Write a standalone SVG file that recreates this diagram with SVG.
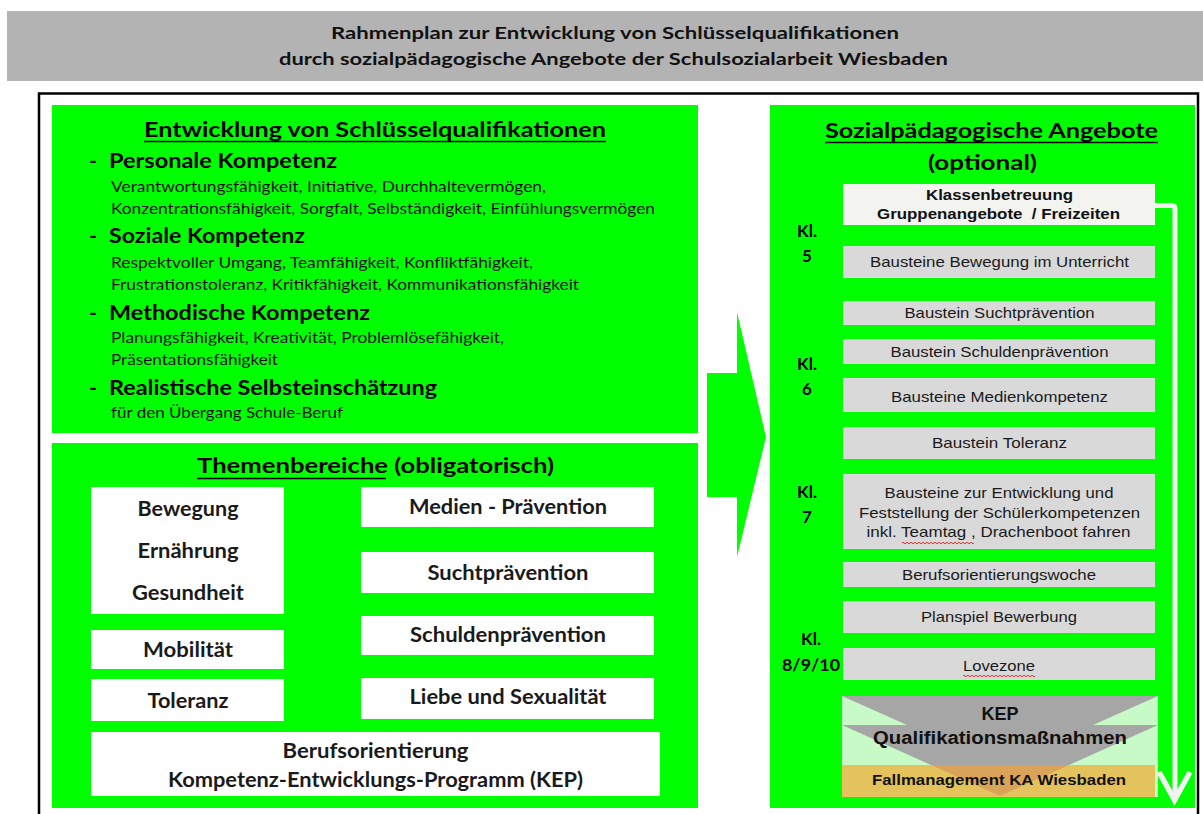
<svg xmlns="http://www.w3.org/2000/svg" width="1203" height="814" viewBox="0 0 1203 814">
<style>
text{font-family:Lato,"Liberation Sans",sans-serif;fill:#111}
.tt{font-size:17.5px;font-weight:700;fill:#111}
.h{font-size:21px;font-weight:700;fill:#000}
.sm{font-size:15px;font-weight:400;fill:#111}
.wb{font-size:20px;font-weight:700;text-anchor:middle;fill:#1a1a1a}
.ar{font-family:"Liberation Sans",Arial,sans-serif;font-size:15px;text-anchor:middle;fill:#1a1a1a}
.arb{font-family:"Liberation Sans",Arial,sans-serif;font-size:15px;font-weight:700;text-anchor:middle;fill:#111}
.kl{font-size:17px;font-weight:700;text-anchor:middle;fill:#000}
.green{fill:#00ff00}
.white{fill:#ffffff}
.gray{fill:#d9d9d9}
.ul{stroke:#000;stroke-width:1.5}
.wavy{fill:none;stroke:#e03030;stroke-width:1}
</style>
<defs/>
<g id="titlebar">
<rect x="7" y="11" width="1200" height="70" fill="#b3b3b3"/>
<text class="tt" x="331" y="38.5" textLength="568" lengthAdjust="spacingAndGlyphs">Rahmenplan zur Entwicklung von Schlüsselqualifikationen</text>
<text class="tt" x="279" y="65" textLength="669" lengthAdjust="spacingAndGlyphs">durch sozialpädagogische Angebote der Schulsozialarbeit Wiesbaden</text>
</g>
<rect id="frame" x="39" y="93.5" width="1159" height="740" fill="none" stroke="#000" stroke-width="2.5"/>

<g id="schluesselqualifikationen">
<rect class="green" x="52" y="105" width="646" height="328"/>
<text class="h" x="144" y="137" textLength="462" lengthAdjust="spacingAndGlyphs">Entwicklung von Schlüsselqualifikationen</text>
<line class="ul" x1="144" y1="141.5" x2="606" y2="141.5"/>
<text class="h" x="89" y="168">-</text>
<text class="h" x="109" y="168" textLength="228" lengthAdjust="spacingAndGlyphs">Personale Kompetenz</text>
<text class="sm" x="111" y="192" textLength="435" lengthAdjust="spacingAndGlyphs">Verantwortungsfähigkeit, Initiative, Durchhaltevermögen,</text>
<text class="sm" x="111" y="214" textLength="544" lengthAdjust="spacingAndGlyphs">Konzentrationsfähigkeit, Sorgfalt, Selbständigkeit, Einfühlungsvermögen</text>
<text class="h" x="89" y="243">-</text>
<text class="h" x="109" y="243" textLength="196" lengthAdjust="spacingAndGlyphs">Soziale Kompetenz</text>
<text class="sm" x="111" y="268" textLength="422" lengthAdjust="spacingAndGlyphs">Respektvoller Umgang, Teamfähigkeit, Konfliktfähigkeit,</text>
<text class="sm" x="111" y="290" textLength="468" lengthAdjust="spacingAndGlyphs">Frustrationstoleranz, Kritikfähigkeit, Kommunikationsfähigkeit</text>
<text class="h" x="89" y="320">-</text>
<text class="h" x="109" y="320" textLength="261" lengthAdjust="spacingAndGlyphs">Methodische Kompetenz</text>
<text class="sm" x="111" y="343" textLength="393" lengthAdjust="spacingAndGlyphs">Planungsfähigkeit, Kreativität, Problemlösefähigkeit,</text>
<text class="sm" x="111" y="365" textLength="167" lengthAdjust="spacingAndGlyphs">Präsentationsfähigkeit</text>
<text class="h" x="89" y="395">-</text>
<text class="h" x="109" y="395" textLength="328" lengthAdjust="spacingAndGlyphs">Realistische Selbsteinschätzung</text>
<text class="sm" x="111" y="418" textLength="232" lengthAdjust="spacingAndGlyphs">für den Übergang Schule-Beruf</text>
</g>

<g id="themenbereiche">
<rect class="green" x="52" y="443" width="646" height="365"/>
<text class="h" x="197" y="473" textLength="357" lengthAdjust="spacingAndGlyphs">Themenbereiche (obligatorisch)</text>
<line class="ul" x1="197" y1="478.5" x2="386" y2="478.5"/>
</g>
<g id="t-bewegung">
<rect class="white" x="91" y="487" width="193" height="127"/>
<text class="wb" x="188" y="516" textLength="101" lengthAdjust="spacingAndGlyphs">Bewegung</text>
<text class="wb" x="188" y="558" textLength="101" lengthAdjust="spacingAndGlyphs">Ernährung</text>
<text class="wb" x="188" y="600" textLength="112" lengthAdjust="spacingAndGlyphs">Gesundheit</text>
</g>
<g id="t-mobilitaet">
<rect class="white" x="91" y="630" width="193" height="39"/>
<text class="wb" x="188" y="657" textLength="90" lengthAdjust="spacingAndGlyphs">Mobilität</text>
</g>
<g id="t-toleranz">
<rect class="white" x="91" y="679" width="193" height="42"/>
<text class="wb" x="188" y="708" textLength="81" lengthAdjust="spacingAndGlyphs">Toleranz</text>
</g>
<g id="t-medien">
<rect class="white" x="361" y="487" width="293" height="40"/>
<text class="wb" x="508" y="514" textLength="198" lengthAdjust="spacingAndGlyphs">Medien - Prävention</text>
</g>
<g id="t-sucht">
<rect class="white" x="361" y="552" width="293" height="41"/>
<text class="wb" x="508" y="580" textLength="161" lengthAdjust="spacingAndGlyphs">Suchtprävention</text>
</g>
<g id="t-schulden">
<rect class="white" x="361" y="616" width="293" height="39"/>
<text class="wb" x="508" y="642" textLength="196" lengthAdjust="spacingAndGlyphs">Schuldenprävention</text>
</g>
<g id="t-liebe">
<rect class="white" x="361" y="678" width="293" height="41"/>
<text class="wb" x="508" y="704" textLength="197" lengthAdjust="spacingAndGlyphs">Liebe und Sexualität</text>
</g>
<g id="t-beruf">
<rect class="white" x="91" y="732" width="569" height="64"/>
<text class="wb" x="375.5" y="758" textLength="186" lengthAdjust="spacingAndGlyphs">Berufsorientierung</text>
<text class="wb" x="375.5" y="787" textLength="415" lengthAdjust="spacingAndGlyphs">Kompetenz-Entwicklungs-Programm (KEP)</text>
</g>

<g id="angebote">
<rect class="green" x="770" y="105" width="425" height="703"/>
<text class="h" x="825" y="138" textLength="333" lengthAdjust="spacingAndGlyphs">Sozialpädagogische Angebote</text>
<line class="ul" x1="825" y1="142.5" x2="1158" y2="142.5"/>
<text class="h" x="928" y="170" textLength="109" lengthAdjust="spacingAndGlyphs">(optional)</text>
<text class="kl" x="807" y="237">Kl.</text>
<text class="kl" x="807" y="262">5</text>
<text class="kl" x="807" y="370">Kl.</text>
<text class="kl" x="807" y="395">6</text>
<text class="kl" x="807" y="498">Kl.</text>
<text class="kl" x="807" y="523">7</text>
<text class="kl" x="811" y="645">Kl.</text>
<text class="kl" x="811" y="671" textLength="58" lengthAdjust="spacingAndGlyphs">8/9/10</text>
</g>
<g id="a-klassen">
<rect x="843" y="184" width="312" height="41" fill="#f3f3ef"/>
<text class="arb" x="999.5" y="200" textLength="147" lengthAdjust="spacingAndGlyphs">Klassenbetreuung</text>
<text class="arb" x="998.5" y="219" textLength="243" lengthAdjust="spacingAndGlyphs" style="white-space:pre">Gruppenangebote  / Freizeiten</text>
</g>
<g id="a-bewegung">
<rect class="gray" x="843" y="246" width="312" height="32"/>
<text class="ar" x="999.5" y="267" textLength="259" lengthAdjust="spacingAndGlyphs">Bausteine Bewegung im Unterricht</text>
</g>
<g id="a-sucht">
<rect class="gray" x="843" y="301" width="312" height="24"/>
<text class="ar" x="999.5" y="318" textLength="190" lengthAdjust="spacingAndGlyphs">Baustein Suchtprävention</text>
</g>
<g id="a-schulden">
<rect class="gray" x="843" y="339" width="312" height="25"/>
<text class="ar" x="999.5" y="357" textLength="218" lengthAdjust="spacingAndGlyphs">Baustein Schuldenprävention</text>
</g>
<g id="a-medien">
<rect class="gray" x="843" y="378" width="312" height="34"/>
<text class="ar" x="999.5" y="402" textLength="217" lengthAdjust="spacingAndGlyphs">Bausteine Medienkompetenz</text>
</g>
<g id="a-toleranz">
<rect class="gray" x="843" y="427" width="312" height="32"/>
<text class="ar" x="999.5" y="448" textLength="135" lengthAdjust="spacingAndGlyphs">Baustein Toleranz</text>
</g>
<g id="a-kompetenzen">
<rect class="gray" x="843" y="474" width="312" height="75"/>
<text class="ar" x="999" y="498" textLength="229" lengthAdjust="spacingAndGlyphs">Bausteine zur Entwicklung und</text>
<text class="ar" x="999.5" y="518" textLength="281" lengthAdjust="spacingAndGlyphs">Feststellung der Schülerkompetenzen</text>
<text class="ar" x="998.5" y="537" textLength="264" lengthAdjust="spacingAndGlyphs">inkl. Teamtag , Drachenboot fahren</text>
<path class="wavy" d="M902 543 q1 -1.5 2 0 t2 0 t2 0 t2 0 t2 0 t2 0 t2 0 t2 0 t2 0 t2 0 t2 0 t2 0 t2 0 t2 0 t2 0 t2 0 t2 0 t2 0 t2 0 t2 0 t2 0 t2 0 t2 0 t2 0 t2 0 t2 0 t2 0 t2 0 t2 0 t2 0 t2 0 t2 0 t2 0 t2 0 t2 0 t2 0"/>
</g>
<g id="a-berufswoche">
<rect class="gray" x="843" y="562" width="312" height="25"/>
<text class="ar" x="999" y="580" textLength="194" lengthAdjust="spacingAndGlyphs">Berufsorientierungswoche</text>
</g>
<g id="a-planspiel">
<rect class="gray" x="843" y="601" width="312" height="32"/>
<text class="ar" x="999" y="622" textLength="156" lengthAdjust="spacingAndGlyphs">Planspiel Bewerbung</text>
</g>
<g id="a-lovezone">
<rect class="gray" x="843" y="648" width="312" height="32"/>
<text class="ar" x="999" y="671" textLength="72" lengthAdjust="spacingAndGlyphs">Lovezone</text>
<path class="wavy" d="M963 676 q1 -1.5 2 0 t2 0 t2 0 t2 0 t2 0 t2 0 t2 0 t2 0 t2 0 t2 0 t2 0 t2 0 t2 0 t2 0 t2 0 t2 0 t2 0 t2 0 t2 0 t2 0 t2 0 t2 0 t2 0 t2 0 t2 0 t2 0 t2 0 t2 0 t2 0 t2 0 t2 0 t2 0 t2 0 t2 0 t2 0 t2 0"/>
</g>
<g id="a-kep">
<rect x="842" y="696" width="316" height="101" fill="#c8fac8"/>
<polygon points="842,696 1158,696 1093,725 1158,725 1000,796 842,725 907,725" fill="#a6a6a6"/>
<rect x="842" y="765" width="313" height="32" fill="#e5c35c"/>
<polygon points="931,765 1069,765 1000,796" fill="#d9a35a"/>
<text class="arb" x="1000" y="720" style="font-size:18px">KEP</text>
<text class="arb" x="1000" y="744" style="font-size:18px" textLength="254" lengthAdjust="spacingAndGlyphs">Qualifikationsmaßnahmen</text>
<text class="arb" x="999" y="785" textLength="254" lengthAdjust="spacingAndGlyphs">Fallmanagement KA Wiesbaden</text>
</g>

<g id="connectors">
<polygon points="707,373 737,373 737,312 766,437 737,557 737,497 707,497" fill="#00ff00"/>
<path d="M1155 205.5 H1171.5 Q1175 205.5 1175 209 V798" fill="none" stroke="#f2f2f2" stroke-width="5"/>
<path d="M1159 772 L1174.5 800 L1190 772" fill="none" stroke="#f2f2f2" stroke-width="5.5" stroke-linejoin="miter"/>
</g>
</svg>
